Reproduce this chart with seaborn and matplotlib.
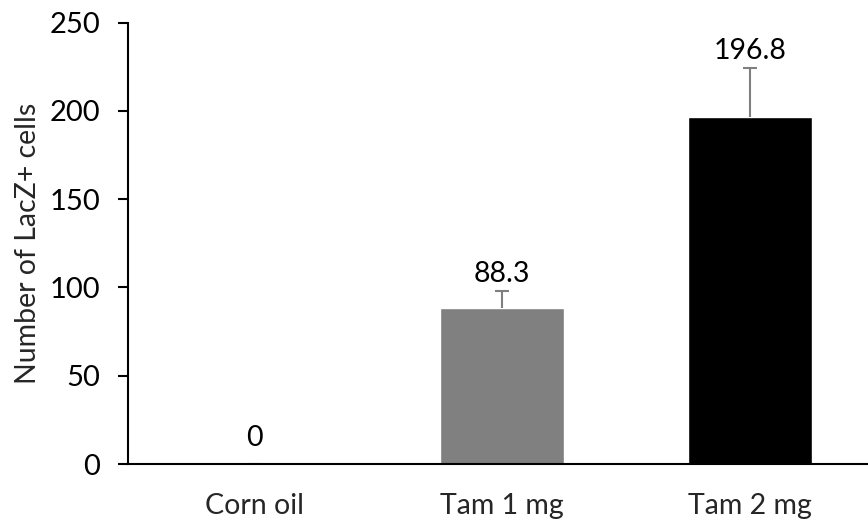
import numpy as np
import pandas as pd
import seaborn as sns
import matplotlib.pyplot as plt

# data
groups = ['Corn oil', 'Tam 1 mg', 'Tam 2 mg']
counts = [0, 88.3, 196.8]
sem = [0, 9.7, 27.6]
bar_colors = ['#808080', '#808080', '#000000']

df = pd.DataFrame({'group': groups, 'count': counts})

sns.set_style('white')
plt.rcParams['font.family'] = ['Lato', 'DejaVu Sans']

fig = plt.figure(figsize=(8.68, 5.23), dpi=100)
ax = fig.add_axes([0.1475, 0.1128, 0.8525, 0.844])

sns.barplot(data=df, x='group', y='count', hue='group', palette=bar_colors,
            legend=False, width=0.5, ax=ax, saturation=1)

# upward-only error bars
eb = ax.errorbar(np.arange(len(groups)), counts, yerr=[np.zeros(len(sem)), sem],
                 fmt='none', ecolor='#7f7f7f', elinewidth=1.5, capsize=5, capthick=1.5)
eb[1][0].set_visible(False)  # hide lower caps

# value labels above error bars
offsets = [19, 12, 12]
for i, (v, e) in enumerate(zip(counts, sem)):
    label = '0' if v == 0 else f'{v:.1f}'
    ax.annotate(label, (i, v + e), xytext=(0, offsets[i]), textcoords='offset points',
                ha='center', va='center', fontsize=20.5, color='#000000')

ax.set_ylim(0, 250)
ax.set_xlim(-0.508, 2.476)
ax.set_yticks(range(0, 251, 50))
ax.set_xlabel('')
ax.set_ylabel('Number of LacZ+ cells', fontsize=20.5, labelpad=6)

for s in ['top', 'right']:
    ax.spines[s].set_visible(False)
for s in ['left', 'bottom']:
    ax.spines[s].set_color('black')
    ax.spines[s].set_linewidth(1.5)

ax.tick_params(axis='y', which='major', direction='out', length=7, width=1.5,
               left=True, labelsize=21, pad=13, colors='black')
ax.tick_params(axis='x', length=0, labelsize=20.5, pad=21)

fig.savefig('out.png', dpi=100)
